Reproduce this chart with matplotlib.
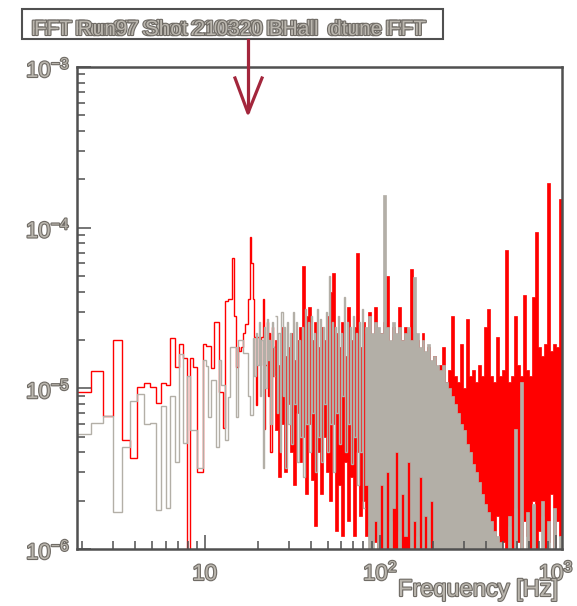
import numpy as np
import matplotlib
matplotlib.use("Agg")
import matplotlib.pyplot as plt
import matplotlib.patheffects as pe
from matplotlib.lines import Line2D
from matplotlib.patches import Rectangle
from matplotlib.ticker import LogLocator, NullFormatter
from matplotlib.transforms import offset_copy

plt.rcParams['font.family'] = ['Liberation Sans', 'DejaVu Sans']
plt.rcParams['mathtext.fontset'] = 'custom'
plt.rcParams['mathtext.rm'] = 'Liberation Sans'
plt.rcParams['mathtext.it'] = 'Liberation Sans:italic'
plt.rcParams['mathtext.bf'] = 'Liberation Sans:bold'
plt.rcParams['mathtext.default'] = 'regular'

title = "FFT Run97 Shot 210320 BHall  dtune FFT"
xlabel = "Frequency [Hz]"

# FFT bins below 25 Hz: width 0.375 Hz, bins k = 5 .. 66
df_hz = 0.375
k_first, k_last = 5, 67
# amplitudes in units of 1e-6
red_low = [9.5, 12.8, 6.7, 20, 4.8, 3.7, 10.2, 10.8, 10.2, 8.1,
           10.8, 10.5, 20.6, 13.5, 19, 15.5, 0.6, 15.5, 13.5, 3.0,
           3.0, 19, 18.3, 18.3, 13.4, 26, 26, 9.5, 9.5, 5.7,
           35, 36, 36, 65, 28, 13.5, 18, 17, 18, 22,
           25, 25, 36, 88, 60, 36, 21, 7.9, 21, 21,
           14, 21, 36, 5.6, 14, 26, 9, 22, 4, 24,
           12, 18]
gray_low = [5.2, 6.1, 6.7, 1.7, 4.3, 8.3, 9.2, 6.0, 6.1, 1.75,
            7.8, 1.8, 9.0, 3.5, 16.3, 4.6, 11.9, 5.5, 5.5, 3.2,
            3.2, 15, 13.8, 6.6, 11.3, 11.3, 4.3, 15, 10.5, 10.5,
            4.8, 8.8, 18, 18, 18, 6.6, 20, 20, 20, 16.5,
            16.5, 16.5, 9, 6.8, 6.8, 20.5, 12, 22, 14, 26,
            9, 20, 3.2, 24, 10, 27, 15, 20, 6, 26,
            18, 12]

# above 25 Hz the bins are far narrower than a pixel:
# max / min amplitude per ~3 px column (units of 1e-6)
f_dense = (25.125, 1080.0)
red_hi = [20, 14, 24, 16, 18, 22, 15, 20, 24, 58,
          28, 32, 20, 26, 18, 24, 20, 28, 40, 52,
          22, 18, 26, 16, 32, 20, 24, 70, 18, 26,
          22, 30, 20, 32, 18, 22, 26, 50, 18, 24,
          16, 32, 20, 24, 18, 55, 22, 20, 16, 22,
          14, 18, 13, 16, 12, 14, 18, 11, 13, 28,
          12, 11, 19, 10, 27, 12, 13, 11, 14, 12,
          24, 31, 12, 11, 21, 12, 13, 73, 11, 12,
          28, 14, 12, 38, 13, 12, 37, 94, 18, 16,
          19, 190, 17, 19, 18, 150]
red_lo = [5.5, 2.8, 6, 3, 8, 4, 2.5, 7, 3.5, 5,
          2.2, 6, 2.7, 1.4, 4, 2.2, 5, 3, 2, 6,
          1.3, 2.5, 1.2, 3.5, 1.5, 2.8, 1.2, 4, 1.6, 2,
          1.2, 1.4, 3, 1.1, 0.3, 0.3, 0.3, 0.3, 1.5, 0.3,
          0.3, 1.3, 0.3, 0.3, 0.3, 0.3, 0.3, 1.2, 0.3, 0.3,
          0.3, 0.3, 0.3, 0.3, 0.3, 2, 0.3, 0.3, 1.4, 0.3,
          0.3, 0.3, 0.3, 0.3, 0.3, 0.3, 0.3, 0.3, 0.3, 0.3,
          0.3, 0.3, 1.2, 0.3, 1.6, 0.3, 1.1, 0.3, 1.4, 0.3,
          1.8, 1.1, 0.3, 1.5, 1.2, 0.3, 2, 0.3, 1.3, 1.6,
          0.3, 1.1, 2.2, 0.3, 1.5, 1.2]
gray_hi = [28, 22, 30, 24, 26, 22, 30, 26, 20, 24,
           31, 26, 28, 22, 31, 27, 24, 30, 50, 26,
           24, 28, 22, 37, 26, 24, 28, 22, 26, 31,
           24, 28, 22, 26, 24, 22, 160, 24, 20, 26,
           22, 24, 20, 22, 24, 20, 49, 22, 18, 20,
           17, 19, 15, 16, 14, 13, 14, 11, 10, 9,
           8, 7, 6, 5.5, 4.5, 4, 3.4, 3, 2.6, 2.2,
           1.9, 1.7, 1.5, 1.3, 1.2, 1.1, 0.8, 0.6, 1.6, 0.5,
           5.6, 0.6, 11, 0.5, 1.7, 0.5, 1.9, 0.6, 0.5, 2,
           0.5, 1.5, 0.5, 1.8, 0.5, 1.2]
gray_lo = [7, 4, 9, 3.2, 6, 4.5, 8, 3.5, 5, 2.8,
           6, 4, 7, 3, 5, 3.5, 8, 4, 6, 3,
           7, 4.5, 9, 4, 6, 3.4, 5, 2.5, 4, 1.8,
           2.5, 1, 0.3, 1.5, 0.3, 2.5, 0.3, 3, 0.3, 1.8,
           4, 0.3, 2.2, 1.2, 3.5, 0.3, 1.5, 0.3, 2.8, 0.3,
           1.6, 0.3, 2, 0.3, 0.3, 0.3, 0.3, 0.3, 0.3, 0.3,
           0.3, 0.3, 0.3, 0.3, 0.3, 0.3, 0.3, 0.3, 0.3, 0.3,
           0.3, 0.3, 0.3, 0.3, 0.3, 0.3, 0.3, 0.3, 0.3, 0.3,
           0.3, 0.3, 0.3, 0.3, 0.3, 0.3, 0.3, 0.3, 0.3, 0.3,
           0.3, 0.3, 0.3, 0.3, 0.3, 0.3]
# from this column on (about 80 Hz) the grey trace looks solid
gray_solid_from = 30

W, H = 577, 606
red = '#ff0000'
gray = '#b3afa7'
text_fill = '#bab6ae'
text_edge = '#6f6b65'
frame_col = '#505050'
outline = [pe.Stroke(linewidth=1.6, foreground=text_edge), pe.Normal()]

low_edges = np.arange(k_first, k_last + 1) * df_hz
col_edges = np.geomspace(f_dense[0], f_dense[1], len(red_hi) + 1)
half_edges = np.geomspace(f_dense[0], f_dense[1], 2 * len(gray_hi) + 1)
u = 1e-6
g_hi = np.array(gray_hi) * u
g_lo = np.array(gray_lo) * u
n = gray_solid_from

fig = plt.figure(figsize=(W / 100, H / 100), dpi=100)
ax = fig.add_axes([77 / W, 1 - 549 / H, 485 / W, 482 / H])

# red first, grey drawn over it
ax.stairs(np.array(red_low) * u, low_edges, color=red, lw=1.0, baseline=None)
ax.stairs(np.array(red_hi) * u, col_edges, baseline=np.array(red_lo) * u, fill=True,
          facecolor=red, edgecolor=red, lw=0.5)
ax.stairs(np.array(gray_low) * u, low_edges, color=gray, lw=1.0, baseline=None)
# grey below ~80 Hz: each column as max then min half-bin, so the line zigzags
gray_zig = np.column_stack([g_hi[:n], g_lo[:n]]).ravel()
ax.stairs(gray_zig, half_edges[:2 * n + 1], color=gray, lw=1.0, baseline=None)
ax.stairs(g_hi[n:], col_edges[n:], baseline=g_lo[n:], fill=True,
          facecolor=gray, edgecolor=gray, lw=0.5)

ax.set_xscale('log')
ax.set_yscale('log')
ax.set_xlim(1.875, 1080)
ax.set_ylim(1e-6, 1e-3)

ax.set_xticks([10, 100, 1000])
ax.set_yticks([1e-6, 1e-5, 1e-4, 1e-3])
ax.xaxis.set_minor_locator(LogLocator(subs=np.arange(2, 10), numticks=20))
ax.yaxis.set_minor_locator(LogLocator(subs=np.arange(2, 10), numticks=20))
ax.xaxis.set_minor_formatter(NullFormatter())
ax.yaxis.set_minor_formatter(NullFormatter())
ax.tick_params(which='both', direction='in', color=frame_col, width=1.1,
               labelbottom=False, labelleft=False)
ax.tick_params(which='major', length=10)
ax.tick_params(which='minor', length=5.5)
for s in ax.spines.values():
    s.set_color(frame_col)
    s.set_linewidth(1.8)
    s.set_zorder(5)

# tick labels, ROOT style
xlab = {10: '10', 100: '$10^{2}$', 1000: '$10^{3}$'}
tx = offset_copy(ax.get_xaxis_transform(), fig=fig, y=-31, units='dots')
for v, s in xlab.items():
    ax.text(v, 0, s, transform=tx, ha='center', va='baseline', fontsize=16,
            color=text_fill, path_effects=outline, clip_on=False)
ylab = {1e-6: '$10^{-6}$', 1e-5: '$10^{-5}$', 1e-4: '$10^{-4}$', 1e-3: '$10^{-3}$'}
ty = offset_copy(ax.get_yaxis_transform(), fig=fig, x=-7, y=-10, units='dots')
for v, s in ylab.items():
    ax.text(0, v, s, transform=ty, ha='right', va='baseline', fontsize=16,
            color=text_fill, path_effects=outline, clip_on=False)

fig.text(558 / W, 1 - 596 / H, xlabel, ha='right', va='baseline', fontsize=17,
         color=text_fill, path_effects=outline)

# title box
fig.add_artist(Rectangle((22 / W, 1 - 39 / H), 421 / W, 30 / H, transform=fig.transFigure,
                         facecolor='white', edgecolor=frame_col, lw=1.5))
for dx in (0, 3):
    fig.text((228 + dx) / W, 1 - 35 / H, title, ha='center', va='baseline', fontsize=15,
             color=text_fill, path_effects=outline)

# arrow
arrow_col = '#a3263c'
fig.add_artist(Line2D([248 / W, 248 / W], [1 - 40 / H, 1 - 111 / H], transform=fig.transFigure,
                      color=arrow_col, lw=2.3))
fig.add_artist(Line2D([235 / W, 248 / W, 262 / W], [1 - 78 / H, 1 - 113 / H, 1 - 78 / H],
                      transform=fig.transFigure, color=arrow_col, lw=2.3))

fig.savefig('out.png', dpi=100)
